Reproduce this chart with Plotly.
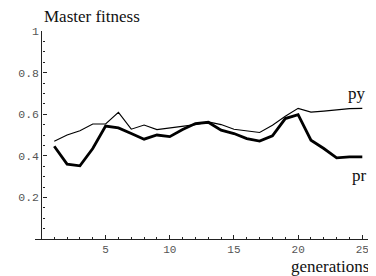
import plotly.graph_objects as go

generations = list(range(1, 26))
py = [0.47, 0.50, 0.52, 0.553, 0.553, 0.609, 0.528, 0.548, 0.526, 0.534,
      0.539, 0.55, 0.563, 0.55, 0.528, 0.521, 0.512, 0.547, 0.59, 0.628,
      0.61, 0.615, 0.62, 0.627, 0.628]
pr = [0.446, 0.36, 0.352, 0.435, 0.543, 0.534, 0.507, 0.48, 0.50, 0.492,
      0.526, 0.555, 0.561, 0.523, 0.507, 0.483, 0.471, 0.496, 0.579, 0.598,
      0.475, 0.435, 0.39, 0.395, 0.395]
x_ticks = [5, 10, 15, 20, 25]
y_ticks = [0.2, 0.4, 0.6, 0.8, 1.0]
y_ticktext = ["0.2", "0.4", "0.6", "0.8", "1"]

serif = "Liberation Serif, Times New Roman, serif"
mono = "Liberation Mono, Courier New, monospace"

fig = go.Figure()
fig.add_trace(go.Scatter(x=generations, y=py, mode="lines",
                         line=dict(color="black", width=1.1), name="py"))
fig.add_trace(go.Scatter(x=generations, y=pr, mode="lines",
                         line=dict(color="black", width=2.8), name="pr"))

xr = [-0.5, 25.6]
# page body has an 8px margin, so the figure is sized to fit the window
fig.update_layout(
    width=368, height=268,
    margin=dict(l=27, r=6, t=23, b=37),
    paper_bgcolor="white", plot_bgcolor="white",
    showlegend=False,
    xaxis=dict(range=xr, domain=[0, 1], showgrid=False, zeroline=False,
               showline=True, linecolor="#222", linewidth=1.3,
               tickvals=x_ticks, ticks="inside", ticklen=4, tickcolor="#222",
               tickfont=dict(family=mono, size=11, color="#555"),
               minor=dict(dtick=1, tick0=0, ticks="inside", ticklen=2, tickcolor="#222")),
    yaxis=dict(range=[0, 1], anchor="free",
               position=(0 - xr[0]) / (xr[1] - xr[0]),
               showgrid=False, zeroline=False,
               showline=True, linecolor="#222", linewidth=1.3,
               tickvals=y_ticks, ticktext=y_ticktext,
               ticks="inside", ticklen=4, tickcolor="#222",
               tickfont=dict(family=mono, size=11.5, color="#555"),
               minor=dict(dtick=0.05, tick0=0, ticks="inside", ticklen=2, tickcolor="#222")),
    annotations=[
        dict(text="Master fitness", xref="paper", yref="paper", x=0.02, y=1.0,
             xanchor="left", yanchor="bottom", yshift=3, showarrow=False,
             font=dict(family=serif, size=17, color="#111")),
        dict(text="generations", xref="paper", yref="paper", x=1.0, y=0,
             xanchor="right", yanchor="top", yshift=-16, xshift=1, showarrow=False,
             font=dict(family=serif, size=17, color="#111")),
        dict(text="py", x=24.6, y=0.70, xref="x", yref="y", showarrow=False,
             font=dict(family=serif, size=17, color="#111")),
        dict(text="pr", x=24.8, y=0.305, xref="x", yref="y", showarrow=False,
             font=dict(family=serif, size=17, color="#111")),
    ],
)

fig.write_html("out.html")
